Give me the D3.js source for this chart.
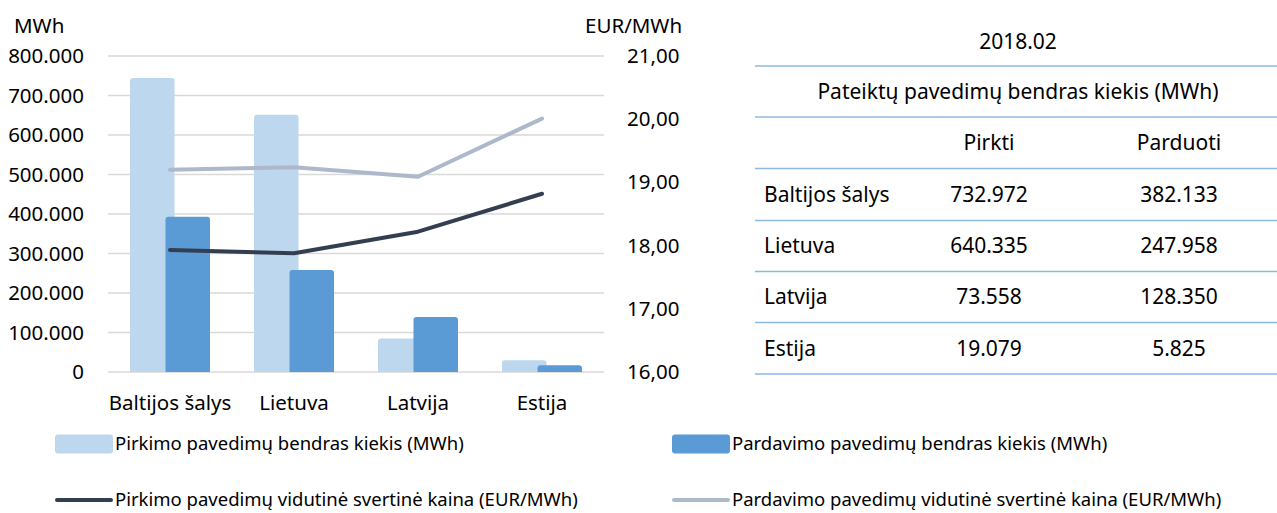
<!DOCTYPE html>
<html>
<head>
<meta charset="utf-8">
<script src="https://cdn.jsdelivr.net/npm/d3@7"></script>
<style>
    html, body { margin: 0; padding: 0; background: #fff; }
    svg { display: block; font-family: "Noto Sans", sans-serif; }
</style>
</head>
<body>
<div id="chart"></div>
<script>
// categories and series
let categories = ["Baltijos šalys", "Lietuva", "Latvija", "Estija"];
let buyVolume = [744000, 651000, 85000, 30000];   // MWh, light bars
let sellVolume = [393000, 258000, 139000, 17000]; // MWh, dark bars
let buyPrice = [17.93, 17.88, 18.22, 18.82];      // EUR/MWh, dark line
let sellPrice = [19.20, 19.24, 19.09, 20.01];     // EUR/MWh, grey line

// table on the right
let tablePeriod = "2018.02";
let tableTitle = "Pateiktų pavedimų bendras kiekis (MWh)";
let tableColumns = ["Pirkti", "Parduoti"];
let tableBuy = [732972, 640335, 73558, 19079];
let tableSell = [382133, 247958, 128350, 5825];

let seriesNames = [
    "Pirkimo pavedimų bendras kiekis (MWh)",
    "Pardavimo pavedimų bendras kiekis (MWh)",
    "Pirkimo pavedimų vidutinė svertinė kaina (EUR/MWh)",
    "Pardavimo pavedimų vidutinė svertinė kaina (EUR/MWh)"
];

let WIDTH = 1277;
let HEIGHT = 513;

let COLORS = {
    buyBar: "#bdd7ee",
    sellBar: "#5b9bd5",
    buyLine: "#333f50",
    sellLine: "#adb9ca",
    grid: "#d9d9d9",
    tableRule: "#8cb8e4",
    text: "#000"
};

let lt = d3.formatLocale({ decimal: ",", thousands: ".", grouping: [3], currency: ["", " €"] });
let fmtVolume = lt.format(",");
let fmtPrice = lt.format(",.2f");

let svg = d3.select("#chart").append("svg")
    .attr("width", WIDTH)
    .attr("height", HEIGHT);

// ---- chart ----
let plot = { left: 108, right: 604, top: 56, bottom: 372 };

let x = d3.scaleBand().domain(categories).range([plot.left, plot.right]);
let yLeft = d3.scaleLinear().domain([0, 800000]).range([plot.bottom, plot.top]);
let yRight = d3.scaleLinear().domain([16, 21]).range([plot.bottom, plot.top]);

// gridlines
svg.append("g")
    .selectAll("line")
    .data(yLeft.ticks(8))
    .join("line")
    .attr("x1", plot.left)
    .attr("x2", plot.right)
    .attr("y1", d => yLeft(d))
    .attr("y2", d => yLeft(d))
    .attr("stroke", COLORS.grid)
    .attr("stroke-width", 1.5);

// left axis
let leftAxis = svg.append("g")
    .attr("transform", "translate(84,0)")
    .call(d3.axisLeft(yLeft).ticks(8).tickSize(0).tickPadding(0).tickFormat(fmtVolume));
leftAxis.select(".domain").remove();
leftAxis.selectAll("text")
    .attr("font-family", "Noto Sans")
    .attr("font-size", 20.5)
    .attr("fill", COLORS.text);

// right axis
let rightAxis = svg.append("g")
    .attr("transform", "translate(627,0)")
    .call(d3.axisRight(yRight).ticks(5).tickSize(0).tickPadding(0).tickFormat(fmtPrice));
rightAxis.select(".domain").remove();
rightAxis.selectAll("text")
    .attr("font-family", "Noto Sans")
    .attr("font-size", 20.5)
    .attr("fill", COLORS.text);

// bottom axis
let bottomAxis = svg.append("g")
    .attr("transform", `translate(0,${plot.bottom})`)
    .call(d3.axisBottom(x).tickSize(0).tickPadding(0));
bottomAxis.select(".domain").remove();
bottomAxis.selectAll("text")
    .attr("dy", 0)
    .attr("y", 38)
    .attr("font-family", "Noto Sans")
    .attr("font-size", 20.5)
    .attr("fill", COLORS.text);

// axis titles
svg.append("text")
    .attr("x", 14)
    .attr("y", 33)
    .attr("font-size", 20.5)
    .text("MWh");
svg.append("text")
    .attr("x", 585)
    .attr("y", 33)
    .attr("font-size", 20.5)
    .text("EUR/MWh");

/**
 * Path for a bar whose top corners are rounded.
 */
function roundedTop(x0, y0, w, h, r) {
    r = Math.min(r, w / 2, h / 2);
    return `M${x0},${y0 + h}V${y0 + r}Q${x0},${y0} ${x0 + r},${y0}` +
        `H${x0 + w - r}Q${x0 + w},${y0} ${x0 + w},${y0 + r}V${y0 + h}Z`;
}

let barWidth = 44.5;
let center = c => x(c) + x.bandwidth() / 2;

// light bars (buy), then dark bars (sell) drawn over them
svg.append("g")
    .selectAll("path")
    .data(categories)
    .join("path")
    .attr("fill", COLORS.buyBar)
    .attr("d", (c, i) => roundedTop(center(c) - 40, yLeft(buyVolume[i]),
        barWidth, yLeft(0) - yLeft(buyVolume[i]), 3));

svg.append("g")
    .selectAll("path")
    .data(categories)
    .join("path")
    .attr("fill", COLORS.sellBar)
    .attr("d", (c, i) => roundedTop(center(c) - 4.5, yLeft(sellVolume[i]),
        barWidth, yLeft(0) - yLeft(sellVolume[i]), 3));

// price lines
let priceLine = d3.line()
    .x((d, i) => center(categories[i]))
    .y(d => yRight(d));

svg.append("path")
    .datum(sellPrice)
    .attr("d", priceLine)
    .attr("fill", "none")
    .attr("stroke", COLORS.sellLine)
    .attr("stroke-width", 4)
    .attr("stroke-linejoin", "round")
    .attr("stroke-linecap", "round");

svg.append("path")
    .datum(buyPrice)
    .attr("d", priceLine)
    .attr("fill", "none")
    .attr("stroke", COLORS.buyLine)
    .attr("stroke-width", 4)
    .attr("stroke-linejoin", "round")
    .attr("stroke-linecap", "round");

// ---- legend ----
let legendItems = [
    { name: seriesNames[0], kind: "rect", color: COLORS.buyBar, x: 55, y: 444 },
    { name: seriesNames[1], kind: "rect", color: COLORS.sellBar, x: 672, y: 444 },
    { name: seriesNames[2], kind: "line", color: COLORS.buyLine, x: 55, y: 500 },
    { name: seriesNames[3], kind: "line", color: COLORS.sellLine, x: 672, y: 500 }
];

let legend = svg.append("g")
    .selectAll("g")
    .data(legendItems)
    .join("g")
    .attr("transform", d => `translate(${d.x},${d.y})`);

legend.filter(d => d.kind === "rect")
    .append("rect")
    .attr("x", 0)
    .attr("y", -9.5)
    .attr("width", 58)
    .attr("height", 19)
    .attr("rx", 3)
    .attr("fill", d => d.color);

legend.filter(d => d.kind === "line")
    .append("line")
    .attr("x1", 2)
    .attr("x2", 56)
    .attr("stroke", d => d.color)
    .attr("stroke-width", 4)
    .attr("stroke-linecap", "round");

legend.append("text")
    .attr("x", 60)
    .attr("dy", "0.35em")
    .attr("font-size", 18.5)
    .attr("fill", COLORS.text)
    .text(d => d.name);

// ---- table ----
let table = svg.append("g");
let ruleYs = [66, 117, 168.5, 220.5, 271.5, 322.5, 374];
let colBuy = 989;
let colSell = 1179;
let rowLabelX = 764;
let tableCenter = 1018;
let tableFont = 21;

table.selectAll("line")
    .data(ruleYs)
    .join("line")
    .attr("x1", 755)
    .attr("x2", WIDTH)
    .attr("y1", d => d)
    .attr("y2", d => d)
    .attr("stroke", COLORS.tableRule)
    .attr("stroke-width", 1.5);

let mid = i => (ruleYs[i] + ruleYs[i + 1]) / 2;

table.append("text")
    .attr("x", tableCenter)
    .attr("y", 42)
    .attr("dy", "0.35em")
    .attr("text-anchor", "middle")
    .attr("font-size", tableFont)
    .text(tablePeriod);

table.append("text")
    .attr("x", tableCenter)
    .attr("y", mid(0))
    .attr("dy", "0.35em")
    .attr("text-anchor", "middle")
    .attr("font-size", tableFont)
    .text(tableTitle);

table.selectAll("text.col")
    .data(tableColumns)
    .join("text")
    .attr("class", "col")
    .attr("x", (d, i) => i === 0 ? colBuy : colSell)
    .attr("y", mid(1))
    .attr("dy", "0.35em")
    .attr("text-anchor", "middle")
    .attr("font-size", tableFont)
    .text(d => d);

let rows = table.selectAll("g.row")
    .data(categories)
    .join("g")
    .attr("class", "row")
    .attr("transform", (d, i) => `translate(0,${mid(i + 2)})`);

rows.append("text")
    .attr("x", rowLabelX)
    .attr("dy", "0.35em")
    .attr("font-size", tableFont)
    .text(d => d);

rows.append("text")
    .attr("x", colBuy)
    .attr("dy", "0.35em")
    .attr("text-anchor", "middle")
    .attr("font-size", tableFont)
    .text((d, i) => fmtVolume(tableBuy[i]));

rows.append("text")
    .attr("x", colSell)
    .attr("dy", "0.35em")
    .attr("text-anchor", "middle")
    .attr("font-size", tableFont)
    .text((d, i) => fmtVolume(tableSell[i]));
</script>
</body>
</html>
